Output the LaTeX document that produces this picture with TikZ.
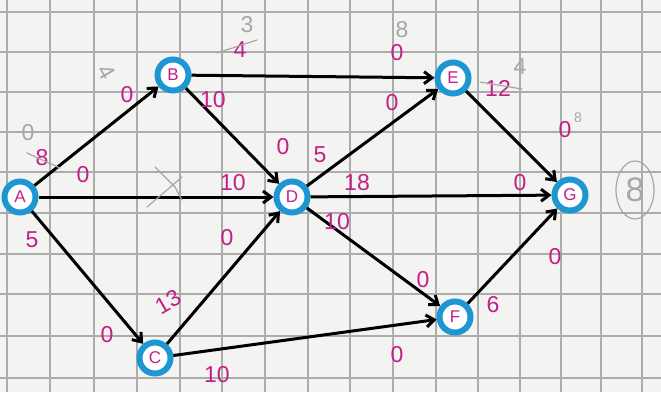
\documentclass[tikz,border=0pt]{standalone}
\usepackage{fontspec}
\setmainfont{Liberation Sans}
\usetikzlibrary{arrows.meta}
\definecolor{inkM}{RGB}{196,30,135}
\definecolor{inkB}{RGB}{30,150,210}
\definecolor{paper}{RGB}{243,243,241}
\tikzset{
	vtx/.style={
		circle, draw=inkB, line width=6pt, fill=white, minimum size=31pt,
		inner sep=0pt, text=inkM, font={\fontsize{17}{18}\selectfont}
	},
	wt/.style={text=inkM, inner sep=1pt, font={\fontsize{23}{25}\selectfont}},
	pen/.style={text=gray!70, inner sep=1pt, font={\fontsize{23}{25}\selectfont}},
	penln/.style={draw=gray!70, line width=1.2pt, line cap=round},
	gridln/.style={draw=gray!65, line width=1.6pt},
	arc/.style={->, line width=3pt},
	>={Straight Barb[length=8pt,width=12pt]},
}

\begin{document}
\begin{tikzpicture}[x=1pt, y=-1pt]
\fill[paper] (0,0) rectangle (661,392);
\useasboundingbox (0,0) rectangle (661,392);
% squared paper
\foreach \gx in {7,50,94,137,180,222,265,308,350,393,436,478,520,561,601,642}
	\draw[gridln] (\gx,0) -- (\gx,392);
\foreach \gy in {12,52,92,132,172,213,254,294,336,378}
	\draw[gridln] (0,\gy) -- (661,\gy);

\node[vtx] (A) at (20,197) {A};
\node[vtx] (B) at (173,75) {B};
\node[vtx] (C) at (155,358) {C};
\node[vtx] (D) at (292,197) {D};
\node[vtx] (E) at (453,78) {E};
\node[vtx] (F) at (455,317) {F};
\node[vtx] (G) at (570,195) {G};

\path (A) edge [arc] (B);
\path (A) edge [arc] (D);
\path (A) edge [arc] (C);
\path (B) edge [arc] (E);
\path (B) edge [arc] (D);
\path (C) edge [arc] (D);
\path (C) edge [arc] (F);
\path (D) edge [arc] (E);
\path (D) edge [arc] (G);
\path (D) edge [arc] (F);
\path (E) edge [arc] (G);
\path (F) edge [arc] (G);

% weights
\node[wt] (wA1) at (42,158) {8};
\node[wt] (wA2) at (83,175) {0};
\node[wt] (wA3) at (32,240) {5};
\node[wt] (wB1) at (127,95) {0};
\node[wt] (wB2) at (213,100) {10};
\node[wt] (wB3) at (240,50) {4};
\node[wt] (wD1) at (283,147) {0};
\node[wt] (wD2) at (320,155) {5};
\node[wt] (wD3) at (233,183) {10};
\node[wt] (wD4) at (357,183) {18};
\node[wt] (wD5) at (227,238) {0};
\node[wt] (wD6) at (337,222) {10};
\node[wt] (wE1) at (397,53) {0};
\node[wt] (wE2) at (392,103) {0};
\node[wt] (wE3) at (498,88) {12};
\node[wt] (wG1) at (565,130) {0};
\node[wt] (wG2) at (520,183) {0};
\node[wt] (wG3) at (555,257) {0};
\node[wt] (wC1) at (107,335) {0};
\node[wt, rotate=30] (wC2) at (168,302) {13};
\node[wt] (wC3) at (217,375) {10};
\node[wt] (wF1) at (423,280) {0};
\node[wt] (wF2) at (493,305) {6};
\node[wt] (wF3) at (397,355) {0};

% pencil marks
\node[pen] (pA) at (28,133) {0};
\node[pen, rotate=-60] (pB) at (107,72) {4};
\node[pen] (pB2) at (247,25) {3};
\node[pen] (pE) at (402,30) {8};
\node[pen] (pE2) at (520,67) {4};
\node[pen, font={\fontsize{14}{15}\selectfont}] (pG) at (578,118) {8};
\node[pen, font={\fontsize{34}{36}\selectfont}] (res) at (635,190) {8};
\draw[gray!70, line width=1.2pt] (res) ellipse (19 and 29);
\draw[penln] (27,153) -- (60,168);
\draw[penln] (217,53) -- (257,40);
\draw[penln] (480,82) -- (522,89);
\draw[penln] (155,167) -- (175,187) -- (182,200);
\draw[penln] (147,207) -- (182,177);
\end{tikzpicture}
\end{document}
